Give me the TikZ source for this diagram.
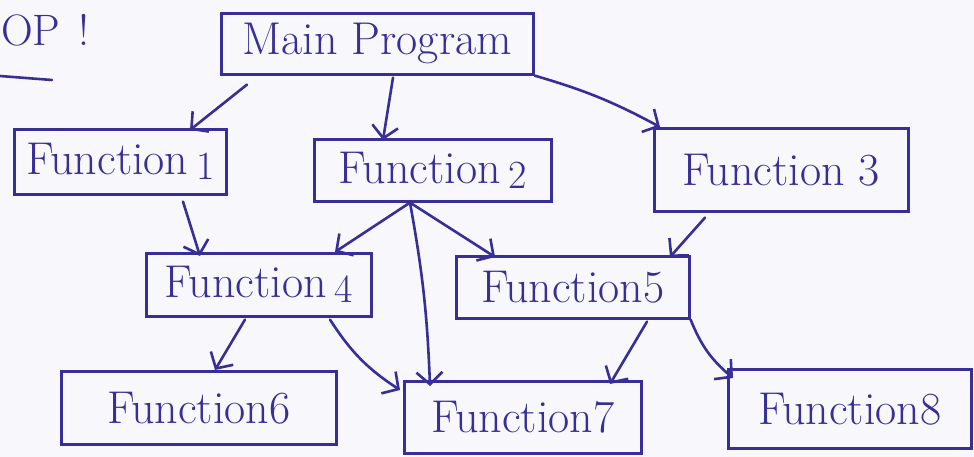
\documentclass[tikz,border=0pt]{standalone}
\usetikzlibrary{arrows.meta,calc}
\definecolor{ink}{RGB}{55,46,150}
\definecolor{paper}{RGB}{247,247,252}
\tikzset{
  box/.style={draw=ink, line width=2.6pt, anchor=north west, inner sep=0pt,
    text=ink, font=\fontsize{46}{50}\selectfont},
  link/.style={draw=ink, line width=2.6pt, line cap=round,
    -{Straight Barb[length=12pt,width=26pt,line width=2.6pt]}},
}
\newcommand{\lowdigit}[1]{\,\raisebox{-5pt}{\fontsize{40}{44}\selectfont #1}}
\begin{document}
\begin{tikzpicture}[x=1pt,y=-1pt]
  \fill[paper] (0,0) rectangle (974,457);
  \useasboundingbox (0,0) rectangle (974,457);

  % note in the margin
  \node[anchor=west, text=ink, font=\fontsize{44}{48}\selectfont, inner sep=0pt]
    (note) at (1,30) {OP\hspace{18pt}!};
  \draw[ink, line width=2.6pt, line cap=round] (0,76) -- (52,80);

  % boxes
  \node[box, minimum width=312, minimum height=61] (main) at (220,12) {Main Program};
  \node[box, minimum width=212, minimum height=65] (f1) at (13,128) {Function\lowdigit{1}};
  \node[box, minimum width=237, minimum height=62] (f2) at (313,138) {Function\lowdigit{2}};
  \node[box, minimum width=254, minimum height=83] (f3) at (653,127) {Function 3};
  \node[box, minimum width=225, minimum height=63] (f4) at (145,252) {Function\lowdigit{4}};
  \node[box, minimum width=233, minimum height=62] (f5) at (455,255) {Function5};
  \node[box, minimum width=275, minimum height=73] (f6) at (60,370) {Function6};
  \node[box, minimum width=237, minimum height=72] (f7) at (403,380) {Function7};
  \node[box, minimum width=243, minimum height=79] (f8) at (727,368) {Function8};

  % connectors
  \draw[link] ([xshift=27,yshift=-9]main.south west) -- ([xshift=177,yshift=-2]f1.north west);
  \draw[link] ([xshift=173,yshift=-2]main.south west) -- ([xshift=70,yshift=-2]f2.north west);
  \draw[link] (main.south east) to[bend left=6] ([xshift=7]f3.north west);
  \draw[link] ([xshift=170,yshift=-6]f1.south west) -- ([xshift=55,yshift=-4]f4.north west);
  \draw[link] ([xshift=97]f2.south west) coordinate (hub) -- ([xshift=190]f4.north west);
  \draw[link] (hub) -- ([xshift=40,yshift=-2]f5.north west);
  \draw[link] (hub) to[bend left=4] ([xshift=27,yshift=-6]f7.north west);
  \draw[link] ([xshift=52,yshift=-5]f3.south west) -- ([xshift=215,yshift=-2]f5.north west);
  \draw[link] ([xshift=100,yshift=-2]f4.south west) -- ([xshift=155]f6.north west);
  \draw[link] ([xshift=185,yshift=-2]f4.south west) to[bend right=12] ([xshift=-3,yshift=-10]f7.north west);
  \draw[link] ([xshift=192,yshift=-2]f5.south west) -- ([xshift=207,yshift=-4]f7.north west);
  \draw[link] (f5.south east) to[bend right=14] ([xshift=6,yshift=-10]f8.north west);
\end{tikzpicture}
\end{document}
